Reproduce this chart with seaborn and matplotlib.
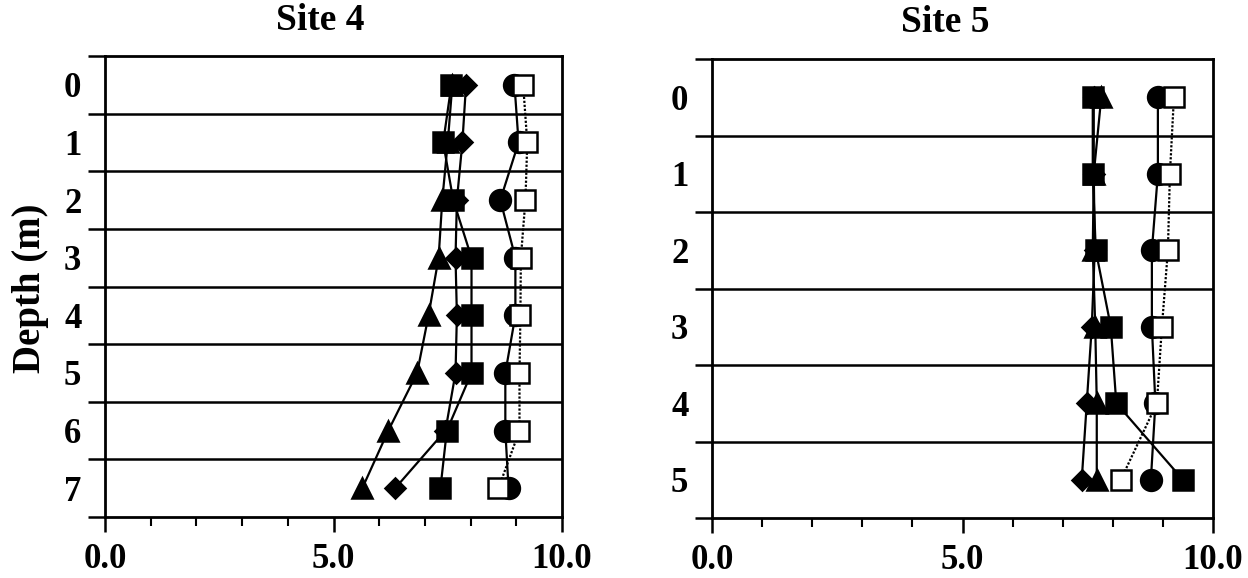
import matplotlib
matplotlib.use("Agg")
import matplotlib.pyplot as plt
import seaborn as sns
import numpy as np
import pandas as pd
from matplotlib.ticker import FixedLocator

sns.set_theme(style="white")
plt.rcParams['font.family'] = ['Liberation Serif', 'DejaVu Serif']
plt.rcParams['font.weight'] = 'bold'

# Depth levels (m)
depth_site4 = [0, 1, 2, 3, 4, 5, 6, 7]
depth_site5 = [0, 1, 2, 3, 4, 5]

# Site 4 profiles
s4_triangle = [7.60, 7.50, 7.38, 7.30, 7.08, 6.83, 6.20, 5.63]
s4_diamond = [7.90, 7.82, 7.70, 7.67, 7.70, 7.67, 7.45, 6.35]
s4_square = [7.58, 7.40, 7.62, 8.02, 8.02, 8.02, 7.48, 7.34]
s4_circle = [8.96, 9.05, 8.65, 8.98, 8.98, 8.76, 8.76, 8.83]
s4_open = [9.15, 9.24, 9.20, 9.10, 9.09, 9.07, 9.07, 8.61]

# Site 5 profiles
s5_triangle = [7.77, 7.62, 7.60, 7.65, 7.68, 7.68]
s5_diamond = [7.62, 7.62, 7.64, 7.58, 7.48, 7.38]
s5_square = [7.60, 7.60, 7.66, 7.96, 8.07, 9.40]
s5_circle = [8.90, 8.90, 8.78, 8.78, 8.85, 8.76]
s5_open = [9.22, 9.14, 9.10, 8.98, 8.88, 8.16]

x_major = [0.0, 5.0, 10.0]
x_major_labels = ["0.0", "5.0", "10.0"]

FS = 25
FS_TITLE = 27

fig = plt.figure(figsize=(12.48, 5.78), dpi=100)
ax4 = fig.add_axes([105 / 1248, 1 - 517 / 578, 457 / 1248, 461 / 578])
ax5 = fig.add_axes([712 / 1248, 1 - 518 / 578, 501 / 1248, 459 / 578])

series_style = [
    # (key, marker, size, face, linestyle, linewidth)
    ("triangle", "^", 15, "black", "-", 1.6),
    ("diamond", "D", 10.5, "black", "-", 1.6),
    ("square", "s", 14.5, "black", "-", 1.6),
    ("circle", "o", 15, "black", "-", 1.6),
    ("open", "s", 15, "white", (0, (1, 0.8)), 1.6),
]


def draw_site(ax, depths, profiles):
    for key, marker, size, face, ls, lw in series_style:
        df = pd.DataFrame({"value": profiles[key], "depth": depths})
        sns.lineplot(data=df, x="value", y="depth", orient="y", sort=False,
                     ax=ax, color="black", linestyle=ls, linewidth=lw,
                     marker=marker, markersize=size, markerfacecolor=face,
                     markeredgecolor="black", markeredgewidth=1.8,
                     legend=False)

    n = len(depths)
    bounds = np.arange(-0.5, n, 1.0)
    ax.set_xlim(0, 10)
    ax.set_ylim(n - 0.5, -0.5)
    for b in bounds[1:-1]:
        ax.axhline(b, color="black", linewidth=1.8, zorder=0.5)

    ax.xaxis.set_major_locator(FixedLocator(x_major))
    ax.xaxis.set_minor_locator(FixedLocator(np.arange(0, 11, 1.0)))
    ax.set_xticklabels(x_major_labels)
    ax.yaxis.set_major_locator(FixedLocator(depths))
    ax.yaxis.set_minor_locator(FixedLocator(bounds))
    ax.set_yticklabels([str(d) for d in depths])

    ax.tick_params(axis="x", which="major", direction="out", length=11,
                   width=1.8, color="black", pad=8, labelsize=FS)
    ax.tick_params(axis="x", which="minor", direction="out", length=6.5,
                   width=1.5, color="black")
    ax.tick_params(axis="y", which="major", length=0, pad=17, labelsize=FS)
    ax.tick_params(axis="y", which="minor", direction="out", length=12,
                   width=1.8, color="black")
    ax.tick_params(bottom=True, left=True, which="both")
    for lab in ax.get_xticklabels() + ax.get_yticklabels():
        lab.set_fontweight("bold")
        lab.set_color("black")
    for sp in ax.spines.values():
        sp.set_visible(True)
        sp.set_color("black")
        sp.set_linewidth(2)
    ax.set_xlabel("")
    ax.set_ylabel("")
    ax.set_facecolor("white")


draw_site(ax4, depth_site4, {"triangle": s4_triangle, "diamond": s4_diamond,
                             "square": s4_square, "circle": s4_circle,
                             "open": s4_open})
draw_site(ax5, depth_site5, {"triangle": s5_triangle, "diamond": s5_diamond,
                             "square": s5_square, "circle": s5_circle,
                             "open": s5_open})

fig.text(320 / 1248, 1 - 20 / 578, "Site 4", ha="center", va="center",
         fontsize=FS_TITLE, fontweight="bold", color="black")
fig.text(945 / 1248, 1 - 23 / 578, "Site 5", ha="center", va="center",
         fontsize=FS_TITLE, fontweight="bold", color="black")
fig.text(31 / 1248, 1 - 288 / 578, "Depth (m)", ha="center", va="center",
         rotation=90, fontsize=FS_TITLE + 1, fontweight="bold", color="black")

fig.savefig("out.png", dpi=100, facecolor="white")
